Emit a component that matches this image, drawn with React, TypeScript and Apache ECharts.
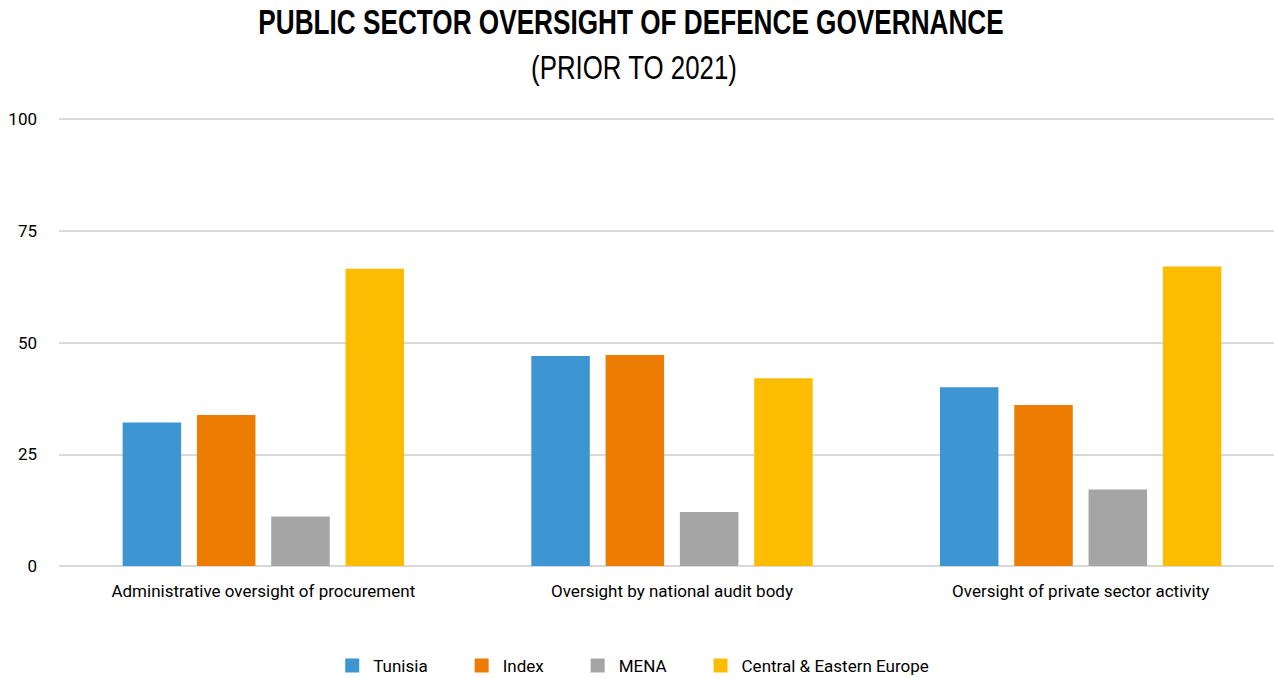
import React, { useEffect, useRef } from "react";
import * as echarts from "echarts";

const categories = [
  "Administrative oversight of procurement",
  "Oversight by national audit body",
  "Oversight of private sector activity",
];
const seriesNames = ["Tunisia", "Index", "MENA", "Central & Eastern Europe"];
const tunisia = [32.1, 47.0, 40.0];
const indexVals = [33.8, 47.2, 36.0];
const mena = [11.1, 12.1, 17.1];
const cee = [66.5, 42.0, 67.0];
const colors = ["#3d95d2", "#ec7c02", "#a5a5a5", "#fbbc02"];
const yTicks = [0, 25, 50, 75, 100];
const titleText = "PUBLIC SECTOR OVERSIGHT OF DEFENCE GOVERNANCE";
const subtitleText = "(PRIOR TO 2021)";

const FONT = "Roboto, 'Liberation Sans', sans-serif";

export default function App() {
  const ref = useRef<HTMLDivElement>(null);
  useEffect(() => {
    document.body.style.margin = "0";
    const chart = echarts.init(ref.current!, null, { renderer: "svg" });
    const values = [tunisia, indexVals, mena, cee];
    chart.setOption({
      animation: false,
      backgroundColor: "#ffffff",
      graphic: [
        {
          type: "text",
          x: 631,
          y: 22,
          scaleX: 0.748,
          style: {
            text: titleText,
            x: 0,
            y: 0,
            textAlign: "center",
            textVerticalAlign: "middle",
            font: "bold 35px 'Liberation Sans', Arial, sans-serif",
            fill: "#000000",
          },
        },
        {
          type: "text",
          x: 634,
          y: 67.5,
          scaleX: 0.76,
          style: {
            text: subtitleText,
            x: 0,
            y: 0,
            textAlign: "center",
            textVerticalAlign: "middle",
            font: "34px 'Liberation Sans', Arial, sans-serif",
            fill: "#000000",
          },
        },
      ],
      legend: {
        top: 657,
        left: "center",
        padding: 0,
        itemWidth: 14,
        itemHeight: 14,
        itemGap: 47,
        icon: "rect",
        textStyle: { fontFamily: FONT, fontSize: 17, color: "#000000", padding: [0, 0, 0, 9] },
        data: seriesNames,
      },
      grid: {
        left: 59,
        top: 119,
        width: 1226,
        bottom: 112,
        containLabel: false,
        outerBoundsMode: "none",
      },
      xAxis: {
        type: "category",
        data: categories,
        axisLine: { show: false },
        axisTick: { show: false },
        axisLabel: { interval: 0, fontFamily: FONT, fontSize: 17, color: "#000000", margin: 16 },
      },
      yAxis: {
        type: "value",
        min: 0,
        max: 100,
        interval: 25,
        axisLine: { show: false },
        axisTick: { show: false },
        axisLabel: {
          fontFamily: FONT,
          fontSize: 17,
          color: "#000000",
          margin: 22,
          formatter: (v: number) => (yTicks.includes(v) ? String(v) : ""),
        },
        splitLine: { lineStyle: { color: "#d9d9d9", width: 2 } },
      },
      series: seriesNames.map((name, i) => ({
        name,
        type: "bar",
        data: values[i],
        barWidth: 58.5,
        barGap: "27%",
        itemStyle: { color: colors[i] },
      })),
    });
    return () => chart.dispose();
  }, []);
  return <div ref={ref} style={{ width: 1274, height: 678 }} />;
}
